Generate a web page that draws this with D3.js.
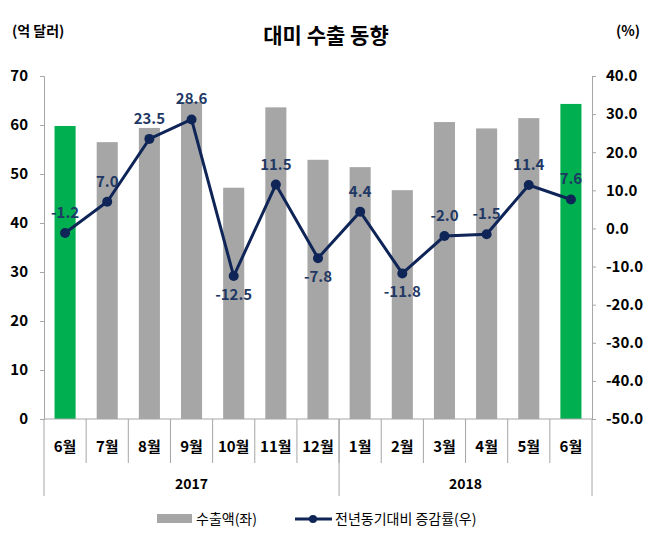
<!DOCTYPE html>
<html><head><meta charset="utf-8">
<script src="https://cdnjs.cloudflare.com/ajax/libs/d3/7.8.5/d3.min.js"></script>
<style>body{margin:0;background:#fff;} svg{display:block;} text{font-family:"Noto Sans CJK KR","Malgun Gothic",sans-serif;}</style>
</head><body>
<svg id="c" width="652" height="543"></svg>
<script>
const months = ["6월","7월","8월","9월","10월","11월","12월","1월","2월","3월","4월","5월","6월"];
const years = ["2017","2018"];
const yearSpans = [7, 6];
const exports = [59.8, 56.5, 59.4, 64.7, 47.2, 63.6, 52.9, 51.4, 46.7, 60.6, 59.3, 61.4, 64.3];
const growth = [-1.2, 7.0, 23.5, 28.6, -12.5, 11.5, -7.8, 4.4, -11.8, -2.0, -1.5, 11.4, 7.6];
const highlight = [true,false,false,false,false,false,false,false,false,false,false,false,true];
const labelBelow = [false,false,false,false,true,false,true,false,true,false,false,false,false];
const leftTicks = [0,10,20,30,40,50,60,70];
const rightTicks = [-50,-40,-30,-20,-10,0,10,20,30,40];

const svg = d3.select("#c");
const L = 44, R = 592, T = 76, B = 419;
const idx = d3.range(months.length);
const x = d3.scaleBand().domain(idx).range([L, R]).paddingInner(0.5).paddingOuter(0.25);
const yL = d3.scaleLinear().domain([0, 70]).range([B, T]);
const yR = d3.scaleLinear().domain([-50, 40]).range([B, T]);
const axisCol = "#a6a6a6";
const navy = "#0f2557";
const f1 = v => d3.format(".1f")(v).replace("\u2212", "-");

// title
svg.append("text").attr("x", 326).attr("y", 43).attr("text-anchor","middle")
  .attr("font-size", 21).attr("font-weight","bold").attr("fill","#000").text("대미 수출 동향");
svg.append("text").attr("x", 12).attr("y", 36).attr("font-size", 14).attr("font-weight","bold").text("(억 달러)");
svg.append("text").attr("x", 640).attr("y", 36).attr("text-anchor","end").attr("font-size", 14).attr("font-weight","bold").text("(%)");

// bars
svg.append("g").selectAll("rect").data(idx).join("rect")
  .attr("x", i => x(i)).attr("width", x.bandwidth())
  .attr("y", i => yL(exports[i])).attr("height", i => B - yL(exports[i]))
  .attr("fill", i => highlight[i] ? "#00b050" : "#a6a6a6");

// left axis
const gl = svg.append("g").attr("transform", `translate(${L},0)`)
  .call(d3.axisLeft(yL).tickValues(leftTicks).tickSize(4).tickPadding(12).tickFormat(d3.format("d")));
gl.selectAll("path,line").attr("stroke", axisCol);
gl.selectAll("text").attr("font-size", 15).attr("font-weight","bold").attr("fill","#000");

// right axis
const gr = svg.append("g").attr("transform", `translate(${R},0)`)
  .call(d3.axisRight(yR).tickValues(rightTicks).tickSize(4).tickPadding(10).tickFormat(f1));
gr.selectAll("path,line").attr("stroke", axisCol);
gr.selectAll("text").attr("font-size", 15).attr("font-weight","bold").attr("fill","#000");

// bottom axis baseline and separators
const bx = i => L + (R - L) * i / months.length;
svg.append("line").attr("x1", L).attr("x2", R).attr("y1", B).attr("y2", B).attr("stroke", axisCol);
svg.append("g").selectAll("line").data(d3.range(1, months.length)).join("line")
  .attr("x1", bx).attr("x2", bx).attr("y1", B).attr("y2", 463).attr("stroke", axisCol);
let acc = 0; const yb = [0];
yearSpans.forEach(s => { acc += s; yb.push(acc); });
svg.append("g").selectAll("line").data(yb).join("line")
  .attr("x1", bx).attr("x2", bx).attr("y1", B).attr("y2", 496).attr("stroke", axisCol);
svg.append("g").selectAll("text").data(months).join("text")
  .attr("x", (d, i) => x(i) + x.bandwidth() / 2).attr("y", 452).attr("text-anchor","middle")
  .attr("font-size", 15).attr("font-weight","bold").text(d => d);
svg.append("g").selectAll("text").data(years).join("text")
  .attr("x", (d, i) => (bx(yb[i]) + bx(yb[i + 1])) / 2).attr("y", 489).attr("text-anchor","middle")
  .attr("font-size", 14).attr("font-weight","bold").text(d => d);

// line
const cx = i => x(i) + x.bandwidth() / 2;
svg.append("path").datum(idx).attr("fill","none").attr("stroke", navy).attr("stroke-width", 3)
  .attr("d", d3.line().x(cx).y(i => yR(growth[i])));
svg.append("g").selectAll("circle").data(idx).join("circle")
  .attr("cx", cx).attr("cy", i => yR(growth[i])).attr("r", 5).attr("fill", navy);
svg.append("g").selectAll("text").data(idx).join("text")
  .attr("x", cx).attr("y", i => yR(growth[i]) + (labelBelow[i] ? 24 : -15))
  .attr("text-anchor","middle").attr("font-size", 15).attr("font-weight","bold").attr("fill", "#1f3864")
  .text(i => f1(growth[i]));

// legend
svg.append("rect").attr("x", 157).attr("y", 514).attr("width", 35).attr("height", 9).attr("fill", "#a6a6a6");
svg.append("text").attr("x", 196).attr("y", 524).attr("font-size", 14).text("수출액(좌)");
svg.append("line").attr("x1", 295).attr("x2", 332).attr("y1", 519).attr("y2", 519).attr("stroke", navy).attr("stroke-width", 3);
svg.append("circle").attr("cx", 313).attr("cy", 519).attr("r", 4).attr("fill", navy);
svg.append("text").attr("x", 335).attr("y", 524).attr("font-size", 14).text("전년동기대비 증감률(우)");
</script>
</body></html>
